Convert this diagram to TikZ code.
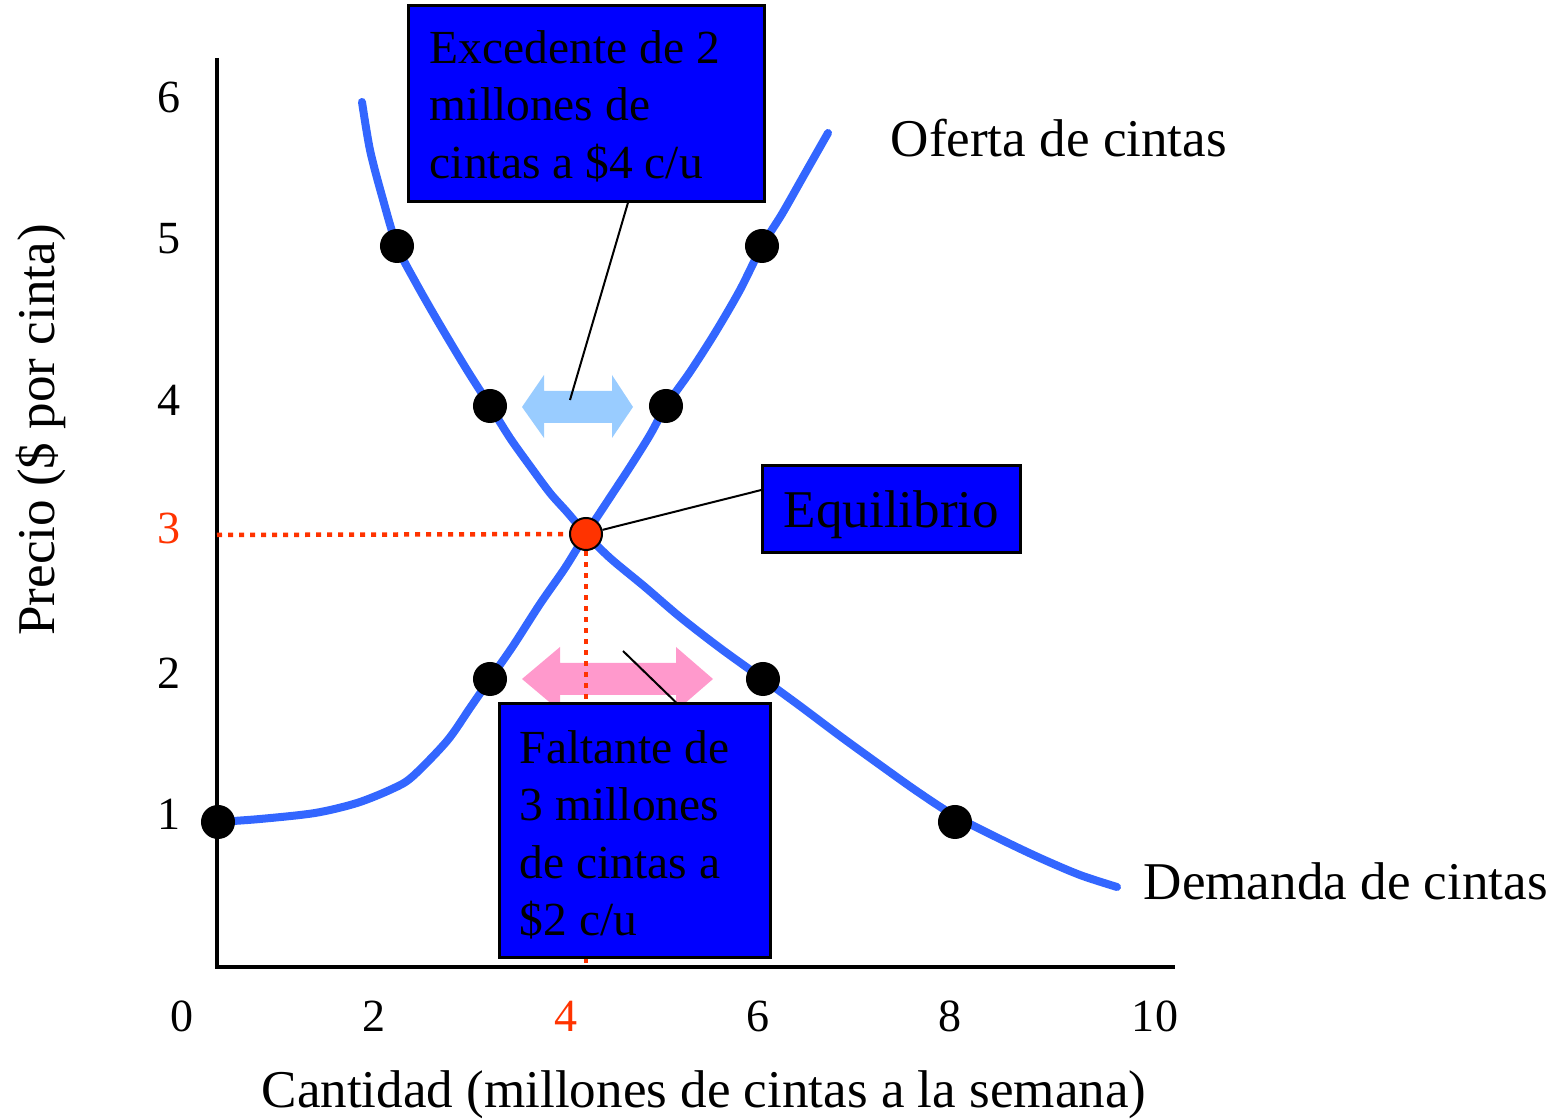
\documentclass[tikz,border=0pt]{standalone}
\usepackage{fontspec}
\setmainfont{Liberation Serif}

\definecolor{curveblue}{RGB}{51,102,255}
\definecolor{boxblue}{RGB}{0,0,255}
\definecolor{eqred}{RGB}{255,51,0}
\definecolor{surplusblue}{RGB}{153,204,255}
\definecolor{shortpink}{RGB}{255,153,204}

\newcommand\calloutfont{\fontsize{13.5pt}{16.35pt}\selectfont}
\newcommand\labelfont{\fontsize{15.1pt}{18pt}\selectfont}
\newcommand\tickfont{\fontsize{13.1pt}{15pt}\selectfont}

\begin{document}
\begin{tikzpicture}[x=0.01cm,y=-0.01cm]
        \tikzstyle{blackdot} = [circle,fill=black,minimum size=0.34cm,inner sep=0pt]
        \tikzstyle{eqdot} = [circle,draw=black,line width=0.02cm,fill=eqred,minimum size=0.32cm,inner sep=0pt]
        \tikzstyle{curve} = [curveblue,line width=0.08cm,line cap=round]
        \tikzstyle{reddots} = [eqred,line width=0.045cm,dash pattern=on 0.05cm off 0.06cm]
        \tikzstyle{infobox} = [draw=black,line width=0.03cm,fill=boxblue,inner sep=0pt]
        \tikzstyle{pointer} = [black,line width=0.02cm]

        \useasboundingbox (0,0) rectangle (1559,1119);

        % axes
        \coordinate (o) at (217,967);
        \coordinate (ytop) at (217,58);
        \coordinate (xend) at (1175,967);
        \draw[line width=0.045cm] (ytop) -- (o) -- (xend);

        % ticks
        \node[font=\tickfont,anchor=base] (x0) at (182,1032) {0};
        \node[font=\tickfont,anchor=base] (x2) at (374,1032) {2};
        \node[font=\tickfont,anchor=base,text=eqred] (x4) at (566,1032) {4};
        \node[font=\tickfont,anchor=base] (x6) at (758,1032) {6};
        \node[font=\tickfont,anchor=base] (x8) at (950,1032) {8};
        \node[font=\tickfont,anchor=base] (x10) at (1155,1032) {10};

        \node[font=\tickfont] (y1) at (169,814) {1};
        \node[font=\tickfont] (y2) at (169,673) {2};
        \node[font=\tickfont,text=eqred] (y3) at (169,528) {3};
        \node[font=\tickfont] (y4) at (169,400) {4};
        \node[font=\tickfont] (y5) at (169,239) {5};
        \node[font=\tickfont] (y6) at (169,97) {6};

        \node[font=\labelfont,anchor=base] (xlabel) at (704,1108) {Cantidad (millones de cintas a la semana)};
        \node[font=\labelfont,rotate=90] (ylabel) at (41,430) {Precio (\$ por cinta)};

        % curves
        \draw[curve] plot[smooth] coordinates {(218,822) (260,819) (315,813) (357,803) (392,789) (412,777)
            (447,741) (470,708) (490,679) (513,646) (540,604) (565,568) (586,534) (607,502) (630,467)
            (650,435) (666,406) (690,372) (715,333) (740,290) (762,246) (782,214) (803,177) (828,133)};
        \draw[curve] plot[smooth] coordinates {(362,102) (370,150) (382,196) (397,246) (416,283) (440,325)
            (467,370) (490,406) (510,438) (530,466) (550,493) (567,512) (586,534) (610,558) (645,587)
            (680,617) (720,648) (763,679) (800,706) (840,736) (880,765) (918,792) (955,816) (1000,839)
            (1040,858) (1080,875) (1117,887)};

        \node[anchor=base west,font=\labelfont,inner sep=0pt] (oferta) at (890,157) {Oferta de cintas};
        \node[anchor=base west,font=\labelfont,inner sep=0pt] (demanda) at (1143,900) {Demanda de cintas};

        % double arrows
        \fill[surplusblue] (522,407) -- (544,375) -- (544,391) -- (612,391) -- (612,375) -- (633,407)
            -- (612,438) -- (612,423) -- (544,423) -- (544,438) -- cycle;
        \fill[shortpink] (522,679) -- (560,647) -- (560,663) -- (676,663) -- (676,647) -- (713,679)
            -- (676,711) -- (676,695) -- (560,695) -- (560,711) -- cycle;

        % points
        \node[blackdot] (s1) at (218,822){};
        \node[blackdot] (s2) at (490,679){};
        \node[blackdot] (s3) at (666,406){};
        \node[blackdot] (s4) at (762,246){};
        \node[blackdot] (d1) at (397,246){};
        \node[blackdot] (d2) at (490,406){};
        \node[blackdot] (d3) at (763,679){};
        \node[blackdot] (d4) at (955,822){};
        \node[eqdot] (eq) at (586,534){};

        \coordinate (p3) at (217,535);
        \coordinate (q4) at (586,967);
        \draw[reddots] (p3) -- (eq);
        \draw[reddots] (eq) -- (q4);

        % callouts
        \node[infobox,minimum width=3.55cm,minimum height=1.95cm,text width=3.13cm,text height=0.38cm,
            align=flush left,font=\calloutfont]
            (excedente) at (586.5,103.5) {Excedente de 2\\millones de\\cintas a \$4 c/u};
        \node[infobox,minimum width=2.57cm,minimum height=0.86cm,text height=0.48cm,font=\labelfont]
            (equilibrio) at (891.5,509) {Equilibrio};
        \node[infobox,minimum width=2.7cm,minimum height=2.53cm,text width=2.3cm,text height=0.42cm,
            align=flush left,font=\calloutfont]
            (faltante) at (635,830.5) {Faltante de\\3 millones\\de cintas a\\\$2 c/u};

        \coordinate (surplus) at (570,400);
        \coordinate (shortage) at (623,651);
        \draw[pointer] ([xshift=0.415cm]excedente.south) -- (surplus);
        \draw[pointer] ([yshift=0.19cm]equilibrio.west) -- (eq);
        \draw[pointer] ([xshift=0.41cm]faltante.north) -- (shortage);

    \end{tikzpicture}
\end{document}
